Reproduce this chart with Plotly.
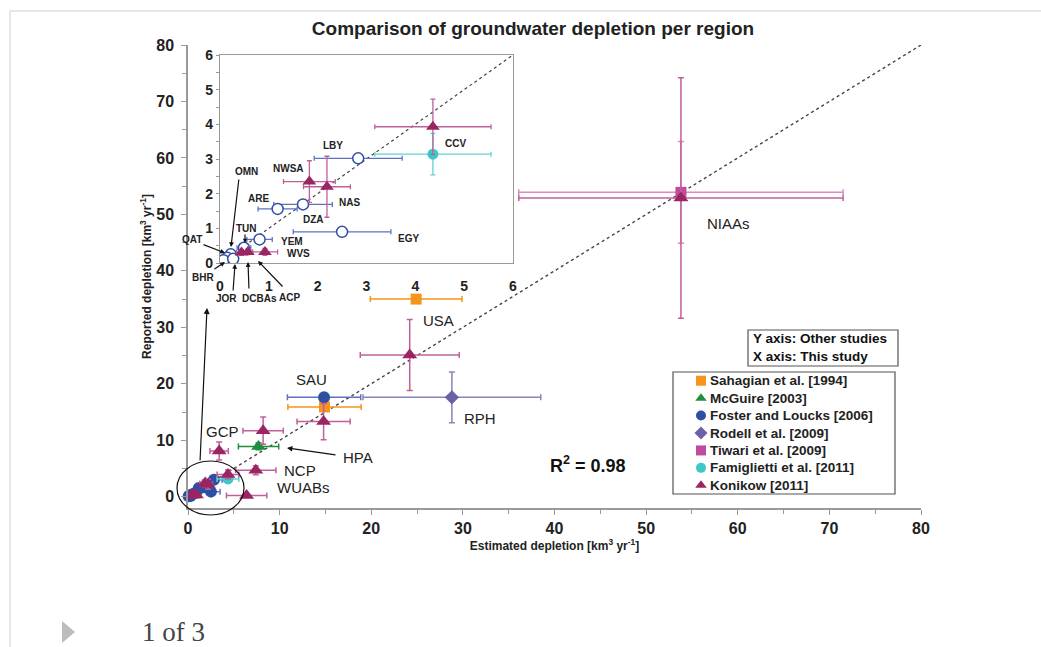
import plotly.graph_objects as go

# ---------------- data ----------------
# Sahagian et al. [1994]
sah_names = ["USA", "SAU"]
sah_x = [24.9, 14.9]
sah_y = [35.0, 15.9]
sah_xerr = [5.0, 4.0]

# McGuire [2003]
mcg_names = ["HPA"]
mcg_x = [7.7]
mcg_y = [8.9]
mcg_xerr = [2.2]
mcg_yerr = [0.6]

# Foster and Loucks [2006]
fos_names = ["SAU", "LBY", "ARE", "DZA", "EGY", "YEM", "TUN", "OMN", "QAT", "BHR", "JOR"]
fos_x = [14.85, 2.83, 1.18, 1.70, 2.50, 0.81, 0.49, 0.22, 0.15, 0.07, 0.27]
fos_y = [17.6, 3.02, 1.56, 1.69, 0.90, 0.68, 0.44, 0.25, 0.15, 0.08, 0.12]
fos_xerr = [4.0, 0.90, 0.40, 0.60, 1.00, 0.26, 0.14, 0.05, 0.04, 0.03, 0.05]

# Rodell et al. [2009]
rod_names = ["RPH"]
rod_x = [28.8]
rod_y = [17.6]
rod_xerr = [9.7]
rod_yerr = [4.5]

# Tiwari et al. [2009]
tiw_names = ["NIAAs"]
tiw_x = [53.8]
tiw_y = [53.9]
tiw_xerr = [17.7]
tiw_yerr = [9.0]

# Famiglietti et al. [2011]
fam_names = ["CCV"]
fam_x = [4.36]
fam_y = [3.14]
fam_xerr = [1.19]
fam_yerr = [0.6]

# Konikow [2011]
kon_names = ["USA", "HPA", "NIAAs", "GCP", "MSE", "NCP", "WUABs", "CCV", "NWSA", "NAS", "WVS", "DCBAs", "ACP"]
kon_x = [24.2, 14.8, 53.8, 3.4, 8.2, 7.4, 6.4, 4.36, 1.83, 2.19, 0.92, 0.44, 0.57]
kon_y = [25.1, 13.3, 52.9, 8.1, 11.7, 4.7, 0.2, 3.93, 2.35, 2.20, 0.32, 0.30, 0.32]
kon_xerr = [5.4, 2.9, 17.7, 1.0, 2.2, 2.2, 2.2, 1.19, 0.53, 0.48, 0.26, 0.10, 0.10]
kon_yerr = [6.3, 3.2, 21.3, 1.6, 2.4, 0.8, 0.2, 0.80, 0.60, 0.88, 0.10, 0.08, 0.08]

legend_names = ["Sahagian et al. [1994]", "McGuire [2003]", "Foster and Loucks [2006]", "Rodell et al. [2009]",
                "Tiwari et al. [2009]", "Famiglietti et al. [2011]", "Konikow [2011]"]

one_to_one_main = [0, 80]
one_to_one_inset = [0, 6]
r2_value = 0.98
inset_limit = 6

# ---------------- layout helpers ----------------
L, R, T, B = 188, 921, 45, 508
PW, PH = R - L, B - T


def pxx(v):
    return (v - L) / PW


def pxy(v):
    return (B - v) / PH


FONT = "Liberation Sans, Arial, sans-serif"

C_SAH = "#f7941d"
C_MCG = "#1f8f3f"
C_FOS = "#2f4fa3"
C_FOS_E = "#5d73c2"
C_ROD = "#6a62a8"
C_ROD_E = "#8a84bd"
C_TIW = "#c04a9c"
C_TIW_E = "#da8cc2"
C_FAM = "#3ec8c8"
C_FAM_E = "#62d2d2"
C_KON = "#9b2462"
C_KON_E = "#c0609a"

legend_colors = [C_SAH, C_MCG, C_FOS, C_ROD, C_TIW, C_FAM, C_KON]
legend_symbols = ["square", "triangle-up", "circle", "diamond", "square", "circle", "triangle-up"]


def ebar(arr, color, th=1.5, w=3):
    return dict(type="data", array=arr, color=color, thickness=th, width=w, visible=True)


def subset(lim, *cols):
    xs, ys = cols[0], cols[1]
    idx = [i for i in range(len(xs)) if xs[i] < lim and ys[i] < lim]
    return [[c[i] for i in idx] for c in cols]


fig = go.Figure()

# 1:1 lines
fig.add_trace(go.Scatter(x=one_to_one_main, y=one_to_one_main, mode="lines",
                         line=dict(color="#444", width=1.4, dash="dot"),
                         showlegend=False, hoverinfo="skip"))
fig.add_trace(go.Scatter(x=one_to_one_inset, y=one_to_one_inset, mode="lines",
                         line=dict(color="#444", width=1.2, dash="dot"),
                         xaxis="x2", yaxis="y2", showlegend=False, hoverinfo="skip"))

# main series
fig.add_trace(go.Scatter(name=legend_names[0], x=sah_x, y=sah_y, text=sah_names, mode="markers",
                         marker=dict(symbol="square", size=11, color=C_SAH),
                         error_x=ebar(sah_xerr, C_SAH), cliponaxis=False))
fig.add_trace(go.Scatter(name=legend_names[1], x=mcg_x, y=mcg_y, text=mcg_names, mode="markers",
                         marker=dict(symbol="triangle-up", size=13, color=C_MCG),
                         error_x=ebar(mcg_xerr, C_MCG), error_y=ebar(mcg_yerr, C_MCG), cliponaxis=False))
fig.add_trace(go.Scatter(name=legend_names[2], x=fos_x, y=fos_y, text=fos_names, mode="markers",
                         marker=dict(symbol="circle", size=12, color=C_FOS),
                         error_x=ebar(fos_xerr, C_FOS_E), cliponaxis=False))
fig.add_trace(go.Scatter(name=legend_names[3], x=rod_x, y=rod_y, text=rod_names, mode="markers",
                         marker=dict(symbol="diamond", size=11, color=C_ROD),
                         error_x=ebar(rod_xerr, C_ROD_E), error_y=ebar(rod_yerr, C_ROD_E), cliponaxis=False))
fig.add_trace(go.Scatter(name=legend_names[4], x=tiw_x, y=tiw_y, text=tiw_names, mode="markers",
                         marker=dict(symbol="square", size=11, color=C_TIW),
                         error_x=ebar(tiw_xerr, C_TIW_E), error_y=ebar(tiw_yerr, C_TIW_E), cliponaxis=False))
fig.add_trace(go.Scatter(name=legend_names[5], x=fam_x, y=fam_y, text=fam_names, mode="markers",
                         marker=dict(symbol="circle", size=11, color=C_FAM),
                         error_x=ebar(fam_xerr, C_FAM_E), error_y=ebar(fam_yerr, C_FAM_E), cliponaxis=False))
fig.add_trace(go.Scatter(name=legend_names[6], x=kon_x, y=kon_y, text=kon_names, mode="markers",
                         marker=dict(symbol="triangle-up", size=13, color=C_KON),
                         error_x=ebar(kon_xerr, C_KON_E), error_y=ebar(kon_yerr, C_KON_E), cliponaxis=False))

# inset series (only points inside the inset range)
fx, fy, fxe, fn = subset(inset_limit, fos_x, fos_y, fos_xerr, fos_names)
fig.add_trace(go.Scatter(x=fx, y=fy, text=fn, mode="markers", xaxis="x2", yaxis="y2",
                         marker=dict(symbol="circle", size=11, color="white", line=dict(color=C_FOS, width=1.5)),
                         error_x=ebar(fxe, C_FOS_E, 1.3, 2.5), showlegend=False))
ax_, ay_, axe, aye, an = subset(inset_limit, fam_x, fam_y, fam_xerr, fam_yerr, fam_names)
fig.add_trace(go.Scatter(x=ax_, y=ay_, text=an, mode="markers", xaxis="x2", yaxis="y2",
                         marker=dict(symbol="circle", size=11, color=C_FAM),
                         error_x=ebar(axe, C_FAM_E, 1.3, 2.5), error_y=ebar(aye, C_FAM_E, 1.3, 2.5),
                         showlegend=False))
kx, ky, kxe, kye, kn = subset(inset_limit, kon_x, kon_y, kon_xerr, kon_yerr, kon_names)
fig.add_trace(go.Scatter(x=kx, y=ky, text=kn, mode="markers", xaxis="x2", yaxis="y2",
                         marker=dict(symbol="triangle-up", size=12, color=C_KON),
                         error_x=ebar(kxe, C_KON_E, 1.3, 2.5), error_y=ebar(kye, C_KON_E, 1.3, 2.5),
                         showlegend=False))

# legend drawn on its own hidden axis pair: one row per series, in order
rows = [i + 0.5 for i in range(len(legend_names))]
fig.add_trace(go.Scatter(x=[28] * len(rows), y=rows, mode="markers", xaxis="x3", yaxis="y3",
                         marker=dict(symbol=legend_symbols, color=legend_colors, size=10),
                         showlegend=False, hoverinfo="skip", cliponaxis=False))

annotations = []


def label(text, x, y, size, bold=False, color="#222", **kw):
    t = "<b>%s</b>" % text if bold else text
    d = dict(text=t, x=pxx(x), y=pxy(y), xref="paper", yref="paper", showarrow=False,
             xanchor="center", yanchor="middle", font=dict(family=FONT, size=size, color=color))
    d.update(kw)
    annotations.append(d)


# main labels
main_labels = [("USA", 438, 320), ("SAU", 311, 380), ("RPH", 480, 418), ("GCP", 222, 431),
               ("HPA", 358, 457), ("NCP", 300, 470), ("WUABs", 303, 487), ("NIAAs", 728, 223)]
for t, x, y in main_labels:
    label(t, x, y, 15)

# inset labels
inset_labels = [("CCV", 455, 143), ("LBY", 333, 145), ("NWSA", 288, 168), ("NAS", 349, 202),
                ("ARE", 258, 199), ("DZA", 313, 219), ("EGY", 408, 238), ("OMN", 246, 172),
                ("TUN", 246, 228), ("YEM", 292, 242), ("WVS", 298, 253), ("QAT", 192, 239),
                ("BHR", 203, 277), ("JOR", 226, 298), ("DCBAs", 259, 298), ("ACP", 289, 297)]
for t, x, y in inset_labels:
    label(t, x, y, 10, bold=True)

# arrows (tail -> head)
arrows = [((239, 178), (231, 247), 0.8), ((202, 244), (225, 253), 0.8), ((213, 270), (225, 262), 0.8),
          ((233, 292), (235, 264), 0.8), ((249, 290), (248, 262), 0.8), ((284, 288), (258, 261), 0.8),
          ((245, 233), (245, 243), 0.7), ((337, 455), (287, 448), 0.9), ((200, 462), (207, 308), 1.0)]
for (tx, ty), (hx, hy), s in arrows:
    annotations.append(dict(text="", x=pxx(hx), y=pxy(hy), xref="paper", yref="paper",
                            ax=tx - hx, ay=ty - hy, showarrow=True, arrowhead=2, arrowsize=s,
                            arrowwidth=1.2, arrowcolor="#111"))

# R^2
label("R<sup>2</sup> = %.2f" % r2_value, 588, 464, 18, bold=True, color="#111")

# axis info box text
label("Y axis: Other studies<br>X axis: This study", 751, 347, 13.5, bold=True, color="#111",
      xanchor="left", align="left")

# legend texts
for name, r in zip(legend_names, rows):
    annotations.append(dict(text="<b>%s</b>" % name, x=35, y=r, xref="x3", yref="y3", showarrow=False,
                            xanchor="left", yanchor="middle", font=dict(family=FONT, size=13.5, color="#222")))

# page footer
annotations.append(dict(text="1 of 3", x=pxx(140), y=pxy(632), xref="paper", yref="paper",
                        xanchor="left", yanchor="middle", showarrow=False,
                        font=dict(family="Liberation Serif, Times New Roman, serif", size=27, color="#444")))

shapes = [
    # ellipse around origin cluster
    dict(type="circle", xref="paper", yref="paper", x0=pxx(177), x1=pxx(244), y0=pxy(515), y1=pxy(461),
         line=dict(color="#111", width=1.2)),
    # info box and legend box
    dict(type="rect", xref="paper", yref="paper", x0=pxx(748), x1=pxx(898), y0=pxy(366), y1=pxy(330),
         line=dict(color="#555", width=1.2), fillcolor="white", layer="below"),
    dict(type="rect", xref="paper", yref="paper", x0=pxx(673), x1=pxx(895), y0=pxy(494), y1=pxy(372),
         line=dict(color="#555", width=1.2), fillcolor="white", layer="below"),
    # page frame
    dict(type="line", xref="paper", yref="paper", x0=pxx(10), x1=pxx(1041), y0=pxy(11), y1=pxy(11),
         line=dict(color="#e6e6e6", width=2)),
    dict(type="line", xref="paper", yref="paper", x0=pxx(10), x1=pxx(10), y0=pxy(11), y1=pxy(647),
         line=dict(color="#e6e6e6", width=2)),
    # footer triangle
    dict(type="path", xref="paper", yref="paper",
         path="M %f %f L %f %f L %f %f Z" % (pxx(62), pxy(621), pxx(75), pxy(632), pxx(62), pxy(643)),
         fillcolor="#bdbdbd", line=dict(width=0)),
]

axis_common = dict(showgrid=False, zeroline=False, showline=True, linecolor="#999", linewidth=1.5,
                   ticks="outside", tickcolor="#999", ticklen=5, tickwidth=1.2)
hidden = dict(visible=False, showgrid=False, zeroline=False, fixedrange=True)

fig.update_layout(
    width=1041, height=647,
    margin=dict(l=L, r=1041 - R, t=T, b=647 - B),
    paper_bgcolor="white", plot_bgcolor="rgba(0,0,0,0)",
    showlegend=False,
    title=dict(text="<b>Comparison of groundwater depletion per region</b>", x=533 / 1041, xanchor="center",
               y=1 - 28 / 647, yanchor="middle", font=dict(family=FONT, size=19, color="#222")),
    xaxis=dict(range=[0, 80], dtick=10, tickfont=dict(family=FONT, size=16, color="#222", weight="bold"),
               minor=dict(dtick=5, ticks="outside", ticklen=4, tickcolor="#999"),
               title=dict(text="<b>Estimated depletion [km<sup>3</sup> yr<sup>-1</sup>]</b>",
                          font=dict(family=FONT, size=12, color="#222"), standoff=4),
               domain=[0, 1], **axis_common),
    yaxis=dict(range=[-2, 80], tickvals=[0, 10, 20, 30, 40, 50, 60, 70, 80],
               tickfont=dict(family=FONT, size=16, color="#222", weight="bold"),
               minor=dict(tickvals=[5, 15, 25, 35, 45, 55, 65, 75], ticks="outside", ticklen=4, tickcolor="#999"),
               ticklabelstandoff=4,
               title=dict(text="<b>Reported depletion [km<sup>3</sup> yr<sup>-1</sup>]</b>",
                          font=dict(family=FONT, size=12, color="#222"), standoff=2),
               domain=[0, 1], **axis_common),
    xaxis2=dict(range=[0, 6], dtick=1, anchor="y2", domain=[pxx(220), pxx(513)], mirror=True,
                tickfont=dict(family=FONT, size=14, color="#222", weight="bold"), ticklabelstandoff=10,
                showgrid=False, zeroline=False, showline=True, linecolor="#999", linewidth=1.3,
                ticks=""),
    yaxis2=dict(range=[0, 6], dtick=1, anchor="x2", domain=[pxy(263), pxy(55)], mirror=True,
                tickfont=dict(family=FONT, size=14, color="#222", weight="bold"),
                minor=dict(dtick=0.5, ticks="outside", ticklen=3, tickcolor="#999"),
                showgrid=False, zeroline=False, showline=True, linecolor="#999", linewidth=1.3,
                ticks="outside", ticklen=3, tickcolor="#999"),
    xaxis3=dict(range=[0, 222], anchor="y3", domain=[pxx(673), pxx(895)], **hidden),
    yaxis3=dict(range=[len(legend_names), 0], anchor="x3", domain=[pxy(494), pxy(372)], **hidden),
    annotations=annotations,
    shapes=shapes,
)

fig.write_html("out.html")
